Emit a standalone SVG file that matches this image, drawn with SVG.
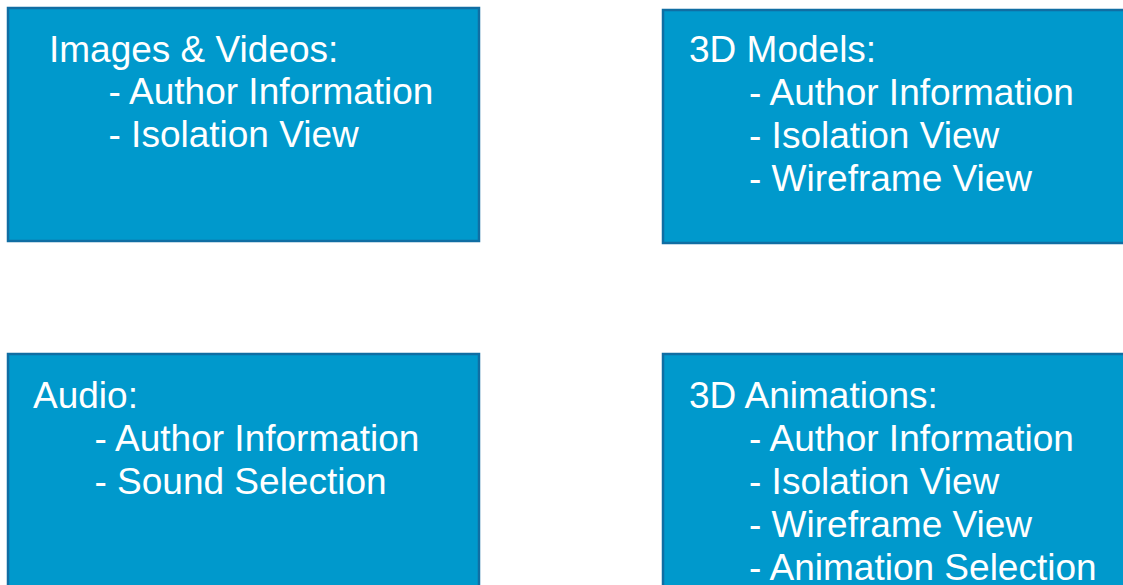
<svg xmlns="http://www.w3.org/2000/svg" width="1123" height="585" viewBox="0 0 1123 585">
  <style>
    .box { fill: #0099cc; stroke: #106ea3; stroke-width: 2.5; }
    .label { fill: #ffffff; font-family: "Liberation Sans", Arial, sans-serif; font-size: 37px; }
  </style>
  <rect width="1123" height="585" fill="#ffffff"/>

  <g id="images-videos">
    <rect class="box" x="8" y="8" width="471" height="233"/>
    <text class="label" x="49" y="62">Images &amp; Videos:</text>
    <text class="label" x="108.5" y="104">- Author Information</text>
    <text class="label" x="108.5" y="147">- Isolation View</text>
  </g>

  <g id="models-3d">
    <rect class="box" x="663" y="10" width="470" height="233"/>
    <text class="label" x="689" y="62">3D Models:</text>
    <text class="label" x="749" y="105">- Author Information</text>
    <text class="label" x="749" y="148">- Isolation View</text>
    <text class="label" x="749" y="191">- Wireframe View</text>
  </g>

  <g id="audio">
    <rect class="box" x="8" y="354" width="471" height="240"/>
    <text class="label" x="33" y="408">Audio:</text>
    <text class="label" x="94.5" y="451">- Author Information</text>
    <text class="label" x="94.5" y="494">- Sound Selection</text>
  </g>

  <g id="animations-3d">
    <rect class="box" x="663" y="354" width="470" height="240"/>
    <text class="label" x="689" y="408">3D Animations:</text>
    <text class="label" x="749" y="451">- Author Information</text>
    <text class="label" x="749" y="494">- Isolation View</text>
    <text class="label" x="749" y="537">- Wireframe View</text>
    <text class="label" x="749" y="580">- Animation Selection</text>
  </g>

  <g id="connectors"></g>
</svg>
